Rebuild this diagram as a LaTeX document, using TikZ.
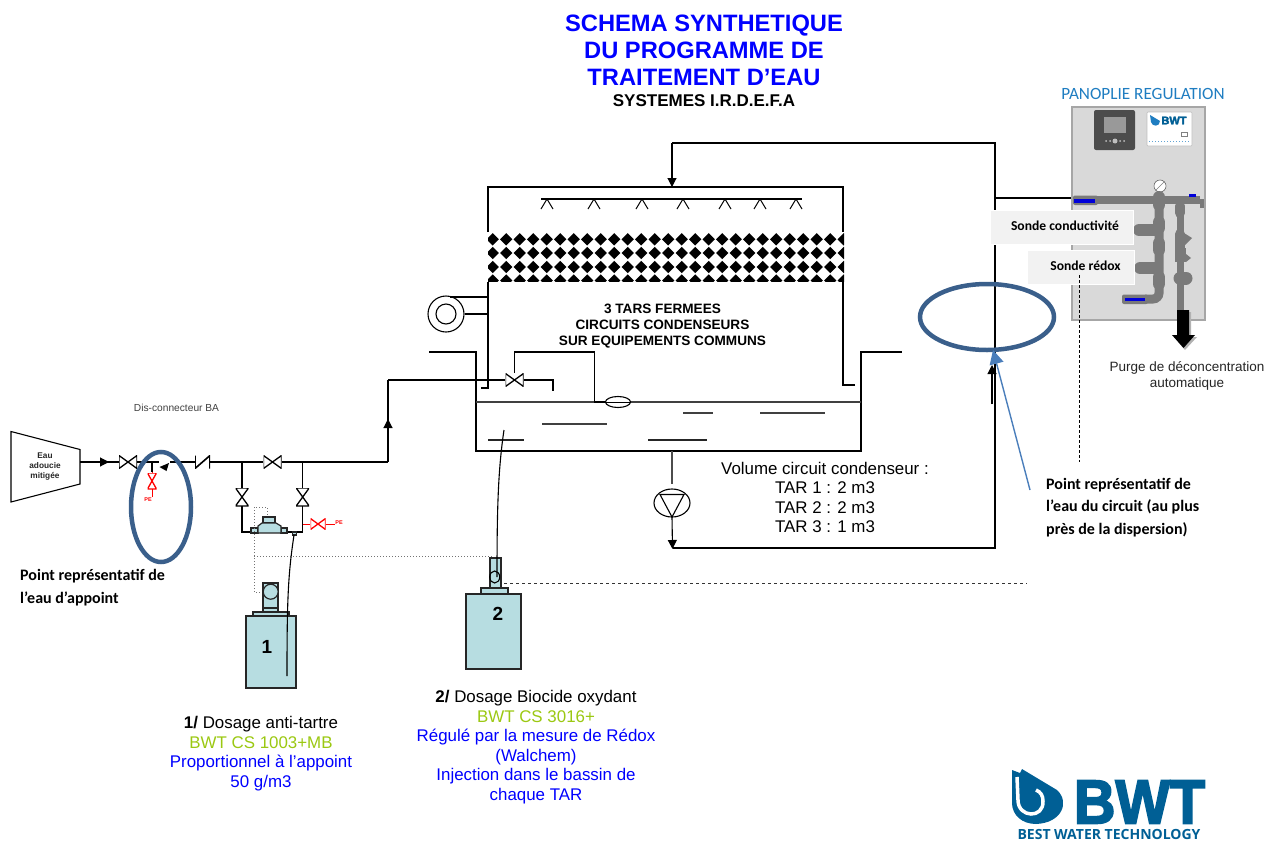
\documentclass[tikz,border=0pt]{standalone}
\usepackage{fontspec}
\setmainfont{Liberation Sans}
\newfontfamily\calibri{Carlito}
\newfontfamily\opensans{Open Sans}
\newfontfamily\logofont[BoldFeatures={FakeBold=3}]{Liberation Sans}
\usetikzlibrary{arrows.meta,positioning,calc,shapes.geometric}
\definecolor{TitreBleu}{HTML}{0000FF}
\definecolor{VertBWT}{HTML}{9BC812}
\definecolor{BleuCercle}{HTML}{3A5F8B}
\definecolor{BleuFleche}{HTML}{4A7EBB}
\definecolor{BleuLogo}{HTML}{005F95}
\definecolor{BleuPanoplie}{HTML}{1F7DC1}
\definecolor{Bac}{HTML}{B7DDE1}
\definecolor{Panneau}{HTML}{D9D9D9}
\definecolor{Tuyau}{HTML}{7A7A7A}
\tikzset{>={Stealth[length=9pt,width=9pt,inset=0pt]},every node/.style={inner sep=0pt,align=center},
 ligne/.style={line width=1.1pt,line join=miter},eau/.style={line width=1.1pt,draw=black!75},
 cuve/.style={draw=black!85,fill=Bac,line width=1.2pt},
 pointilles/.style={draw=black!55,line width=1pt,dotted},
 cercle/.style={draw=BleuCercle,line width=4.5pt},
 tuyau/.style={draw=Tuyau,line width=8pt},
 raccord/.style={draw=Tuyau,line width=12pt,line cap=round},
 embout/.style={fill=Tuyau,rounded corners=2pt},
 corps/.style={font=\fontsize{16.9}{19.5}\selectfont},
 note/.style={font=\calibri\bfseries\fontsize{16}{22.5}\selectfont,align=left,anchor=west},
 sonde/.style={fill=black!5,draw=white,line width=1pt},
 vanne/.style={minimum width=18pt,minimum height=13pt,path picture={\draw[#1,line width=1.3pt]
  (path picture bounding box.south west)--(path picture bounding box.north east)--
  (path picture bounding box.south east)--(path picture bounding box.north west)--cycle;}},
 vanne/.default=black,
 vanneV/.style={minimum width=13pt,minimum height=18pt,path picture={\draw[#1,line width=1.3pt]
  (path picture bounding box.south west)--(path picture bounding box.north east)--
  (path picture bounding box.north west)--(path picture bounding box.south east)--cycle;}},
 vanneV/.default=black,
 clapet/.style={minimum width=15pt,minimum height=13pt,path picture={\draw[line width=1.6pt]
  (path picture bounding box.north west)--(path picture bounding box.south west)--
  (path picture bounding box.north east)--(path picture bounding box.south east);}}}
\begin{document}
\begin{tikzpicture}[x=1pt,y=-1pt]
\useasboundingbox (0,0) rectangle (1267,841);
% titre
\node[font=\bfseries\fontsize{23.7}{27}\selectfont,text=TitreBleu] (titre) at (704,50.5) {SCHEMA SYNTHETIQUE\\DU PROGRAMME DE\\TRAITEMENT D’EAU};
\node[font=\bfseries\fontsize{17}{20}\selectfont] (systemes) at (704,101) {SYSTEMES I.R.D.E.F.A};
% tour
\draw[ligne] (488,232)--(488,187)--(843,187)--(843,232);
\draw[ligne] (481,388)--(488,388)--(488,282);
\draw[ligne] (855,385)--(843,385)--(843,282);
\draw[ligne] (541,199)--(802,199);
\foreach \x in {547,594,642,683,725,760,796}
 \draw[line width=1pt] (\x-6,209)--(\x,199)--(\x+6,209);
\begin{scope}
\clip (488,232) rectangle (844,281.7);
\foreach \i in {0,...,26}
 \foreach \rangee in {239.3,253,267,280.5}
  \fill ({492.7+13.5*\i-6.2},\rangee)--({492.7+13.5*\i},\rangee-6.2)--({492.7+13.5*\i+6.2},\rangee)--({492.7+13.5*\i},\rangee+6.2)--cycle;
\end{scope}
\node[font=\bfseries\fontsize{13.6}{16}\selectfont] (tars) at (662.5,326.5) {3 TARS FERMEES\\CIRCUITS CONDENSEURS\\SUR EQUIPEMENTS COMMUNS};
% ventilateur
\node[circle,draw,line width=1.1pt,minimum size=36pt] (ventil) at (446,314) {};
\node[circle,draw,line width=1.1pt,minimum size=20pt] (ventilin) at (446,314) {};
\draw[line width=1.1pt] (450,297)--(488,297);
\draw[line width=1.1pt] (ventil.east)--(488,314);
% bassin
\draw[ligne] (429,352)--(476,352)--(476,451)--(861,451)--(861,352)--(902,352);
\draw[eau] (476,402)--(861,402);
\draw[eau] (542,424)--(607,424) (683,413)--(713,413) (760,413)--(825,413);
\draw[line width=1.1pt,draw=black!85] (488,440)--(524,440) (648,440)--(707,440);
\node[ellipse,draw,fill=white,line width=1.1pt,minimum width=25pt,minimum height=11pt] (flotteur) at (618,402) {};
\draw[line width=1pt] (flotteur.west)--(flotteur.east);
% appoint
\node[vanne] (vanneT) at (514.5,380) {};
\draw[ligne] (flotteur.west)--(594.5,402)--(594.5,352)--(514.5,352)--(vanneT.north);
\draw[ligne] (vanneT.east)--(553,380)--(553,391);
\coordinate (coude) at (388,380);
\draw[ligne] (vanneT.west)--(coude);
\coordinate (angle) at (388,462);
\draw[ligne] (angle)--(coude);
\draw[->,ligne] (388,432)--(388,419);
% entree eau
\draw[ligne] (11,431.5)--(80,449.5)--(80,484)--(11,502)--cycle;
\node[font=\bfseries\fontsize{8.3}{10}\selectfont,text=black!85] (eau) at (45,467) {Eau\\adoucie\\mitigée};
\coordinate (sortie) at (80,462);
\node[vanne] (vanne1) at (128,462) {};
\node[clapet] (clapet1) at (202.5,462) {};
\node[vanne] (vanne2) at (272.5,462) {};
\coordinate (piquage) at (152,462);
\draw[ligne] (sortie)--(vanne1);
\draw[->,ligne] (96,462)--(109,462);
\draw[ligne] (vanne1)--(159,462);
\draw[ligne] (170,462)--(clapet1);
\draw[ligne] (clapet1)--(vanne2);
\draw[ligne] (vanne2)--(angle);
\fill (169,463)--(166.5,471)--(159.5,467)--cycle;
\node[font=\fontsize{10.2}{12}\selectfont,text=black!75] (disco) at (176.5,408) {Dis-connecteur BA};
% disconnecteur
\draw[ligne] (piquage)--(152,472);
\node[vanneV=red,minimum width=9pt,minimum height=16pt] (vanneR1) at (152,481) {};
\draw[red,line width=1pt] (152,472)--(vanneR1) (vanneR1)--(152,497);
\node[font=\bfseries\fontsize{5.5}{6}\selectfont,text=red] (pe1) at (148,500) {PE};
% by-pass
\node[vanneV] (vanneG) at (242,497) {};
\node[vanneV] (vanneD) at (302.7,497) {};
\draw[ligne] (242,462)--(vanneG);
\draw[ligne] (302.7,462)--(vanneD);
\draw[ligne] (vanneG)--(242,532)--(252,532);
\draw[ligne] (vanneD)--(302.7,532)--(285,532);
\node[vanne=red,minimum width=15pt,minimum height=11pt] (vanneR2) at (318,524) {};
\draw[red,line width=1pt] (302.7,524)--(vanneR2) (vanneR2)--(335,524);
\node[font=\bfseries\fontsize{5.5}{6}\selectfont,text=red] (pe2) at (339,522.5) {PE};
% compteur
\draw[cuve] (263,517) rectangle (275,523);
\draw[cuve] (251,528) rectangle (258,533);
\draw[cuve] (281,528) rectangle (287,533);
\draw[cuve] (258,533)--(258,526)--(262,523)--(276,523)--(281,526)--(281,533)--cycle;
\draw[cuve] (292.5,532) rectangle (296.5,535);
\draw[pointilles] (263,592)--(254,592)--(254,507)--(267,507)--(267,516);
\draw[pointilles] (254,556)--(492,556);
% pompe 1
\draw[cuve] (263,583) rectangle (278,608);
\draw[cuve] (263,608) rectangle (278,612);
\node[circle,cuve,minimum size=15pt] (pompe1) at (270.7,591.7) {};
\draw[cuve] (253,612) rectangle (289,616);
\node[cuve,minimum width=50pt,minimum height=72pt] (bac1) at (271,652) {};
\node[font=\bfseries\fontsize{19}{22}\selectfont] (num1) at (267,647) {1};
\draw[ligne] (294,535) .. controls (288,575) and (287,600) .. (287,676);
\node[note] (appoint) at (20,587.5) {Point représentatif de\\l’eau d’appoint};
\draw[cercle] (161,507) ellipse (30 and 55);
% pompe 2
\draw[cuve] (490,558) rectangle (501,588);
\draw[cuve] (481,588) rectangle (508,594);
\node[cuve,minimum width=55pt,minimum height=75pt] (bac2) at (493.5,631.5) {};
\draw[line width=1.1pt] (494.7,577) ellipse (5 and 6);
\node[font=\bfseries\fontsize{19}{22}\selectfont] (num2) at (498,614) {2};
\draw[ligne] (504,430) .. controls (498,470) and (497,510) .. (497,577);
\draw[black!80,line width=1pt,dashed] (504,583)--(1027,583);
% textes dosage
\node[corps] (dosage1) at (261,753.5) {\textbf{1/} Dosage anti-tartre\\\textcolor{VertBWT}{BWT CS 1003+MB}\\\textcolor{TitreBleu}{Proportionnel à l’appoint}\\\textcolor{TitreBleu}{50 g/m3}};
\node[corps] (dosage2) at (536,747) {\textbf{2/} Dosage Biocide oxydant\\\textcolor{VertBWT}{BWT CS 3016+}\\\textcolor{TitreBleu}{Régulé par la mesure de Rédox}\\\textcolor{TitreBleu}{(Walchem)}\\\textcolor{TitreBleu}{Injection dans le bassin de}\\\textcolor{TitreBleu}{chaque TAR}};
\node[corps] (volume) at (825,497.5) {Volume circuit condenseur :\\TAR 1 : 2 m3\\TAR 2 : 2 m3\\TAR 3 : 1 m3};
% pompe circulation
\node[ellipse,draw,line width=1.1pt,minimum width=36pt,minimum height=28pt] (pompeC) at (672,503) {};
\draw[line width=1.1pt] (660,494.5)--(684,494.5)--(672,517)--cycle;
\draw[line width=1.1pt,draw=black!70] (672,451)--(672,484);
\coordinate (retour) at (672.5,549);
\draw[->,ligne] (672,517)--(retour);
% boucle
\coordinate (hautD) at (995,143);
\coordinate (hautG) at (672,143);
\draw[ligne] (672.5,548)--(995,548)--(hautD)--(hautG);
\draw[->,ligne] (hautG)--(672,187);
\draw[ligne] (995,198)--(1073,198);
\draw[->,ligne] (992,404)--(992,365);
% panoplie
\node[font=\calibri\fontsize{17.2}{20}\selectfont,text=BleuPanoplie] (panoplie) at (1143,93.5) {PANOPLIE REGULATION};
\node[fill=Panneau,draw=black!35,line width=1.2pt,minimum width=133pt,minimum height=213pt] (panneau) at (1138.5,213.5) {};
\fill[black!70,rounded corners=2pt] (1094,110) rectangle (1135,150);
\fill[black!40] (1104,117) rectangle (1126,133);
\fill[black!25] (1115,141) circle (2.5) (1106,141) circle (1) (1110,141) circle (1) (1120,141) circle (1) (1124,141) circle (1);
\node[draw=black!25,fill=white,line width=.6pt,rounded corners=1pt,minimum width=45pt,minimum height=34pt] (carte) at (1169.5,129) {};
\node[font=\logofont\bfseries\fontsize{11}{12}\selectfont,text=BleuLogo] (bwtcarte) at (1174,120.5) {BWT};
\fill[BleuPanoplie] (1150,115)--(1160,121)..controls (1160,127) and (1152,127) .. (1151,122)--cycle;
\draw[black!50,line width=.5pt] (1181.5,132) rectangle (1187.5,136);
\draw[BleuPanoplie!70,line width=1pt,dotted] (1149,141.5)--(1189,141.5);
% tuyauterie
\draw[tuyau] (1076,200)--(1200,200);
\draw[tuyau,line width=4pt] (1202,199)--(1202,208);
\fill[embout] (1073,195.5) rectangle (1098,205);
\fill[embout] (1122,294.5) rectangle (1148,304);
\fill[blue!85!black] (1074,198.5) rectangle (1095,202.5);
\fill[blue!85!black] (1125,297.5) rectangle (1146,301);
\fill[blue!85!black] (1189,194) rectangle (1196,197);
\node[circle,draw=black!60,fill=white,line width=.6pt,minimum size=12pt] (jauge) at (1160,186) {};
\draw[black!50,line width=.6pt] (jauge.south west)--(jauge.north east);
\draw[tuyau,line width=9pt,rounded corners=6pt] (1159,195)--(1159,299)--(1145,299);
\draw[raccord] (1139,230)--(1157,230);
\draw[raccord] (1140,268)--(1157,268);
\draw[raccord] (1159,197)--(1159,205) (1159,222)--(1159,228) (1159,243)--(1159,250) (1159,277)--(1159,284);
\draw[tuyau,line width=7pt] (1180,200)--(1180,311);
\draw[raccord,line width=10pt] (1180,206)--(1180,213) (1180,234)--(1180,250);
\draw[tuyau,line width=11pt] (1180,248)--(1180,262);
\fill[Tuyau] (1184,233)--(1192,238)--(1184,246)--cycle (1186,254)--(1191,258)--(1186,262)--cycle;
\draw[raccord,line width=13pt] (1180,278)--(1186,278);
\node[sonde,minimum width=143pt,minimum height=34pt] (boxcond) at (1061.5,227) {};
\node[sonde,minimum width=107pt,minimum height=34pt] (boxredox) at (1080.5,267) {};
\node[font=\calibri\bfseries\fontsize{13.6}{15}\selectfont] (txtcond) at (1065,225.5) {Sonde conductivité};
\node[font=\calibri\bfseries\fontsize{13.6}{15}\selectfont] (txtredox) at (1085.5,266) {Sonde rédox};
\draw[line width=1pt,densely dashed] (1079,275)--(1079,462);
% purge
\fill[black!30,shift={(2,2)}] (1177,310)--(1189,310)--(1189,335)--(1195,335)--(1183,348)--(1172,335)--(1177,335)--cycle;
\fill (1177,310)--(1189,310)--(1189,335)--(1195,335)--(1183.5,348)--(1172,335)--(1177,335)--cycle;
\node[font=\fontsize{13.5}{16}\selectfont,text=black!85] (purge) at (1187,376) {Purge de déconcentration\\automatique};
% point representatif
\draw[cercle] (987,317) ellipse (67 and 33);
\draw[BleuFleche,line width=1.4pt,-{Stealth[length=14pt,width=14pt,inset=0pt]}] (1030,490)--(993,350);
\node[note] (circuit) at (1046,507.5) {Point représentatif de\\l’eau du circuit (au plus\\près de la dispersion)};
% logo
\fill[BleuLogo] (1012,770)--(1020,773)--(1022,769)--(1057,790) .. controls (1070,802) and (1062,823) .. (1036,824) .. controls (1022,824) and (1012,815) .. (1012,803)--cycle;
\draw[white,line width=3.5pt] (1017,777)--(1018,800) .. controls (1018,818) and (1044,819) .. (1043,801) .. controls (1043,796) and (1041,792) .. (1036,790);
\node[font=\logofont\bfseries\fontsize{62}{62}\selectfont,text=BleuLogo,xscale=.93] (bwt) at (1139.5,802) {BWT};
\node[font=\opensans\bfseries\fontsize{14}{15}\selectfont,text=BleuLogo] (best) at (1109,834.5) {BEST WATER TECHNOLOGY};
\end{tikzpicture}
\end{document}
